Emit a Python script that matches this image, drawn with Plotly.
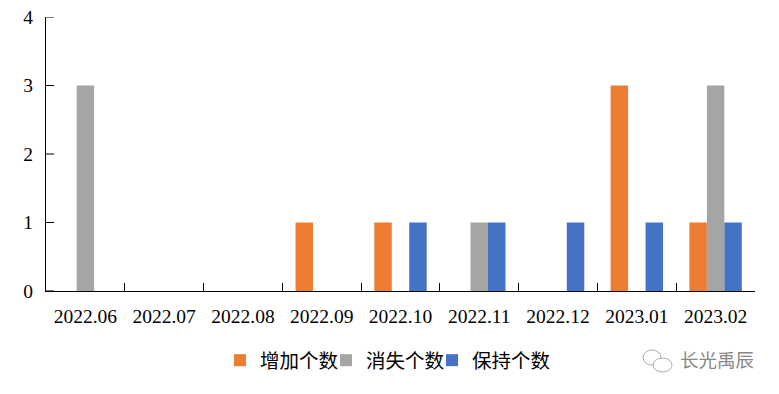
import plotly.graph_objects as go

months = ["2022.06","2022.07","2022.08","2022.09","2022.10","2022.11","2022.12","2023.01","2023.02"]
added = [0,0,0,1,1,0,0,3,1]
lost = [3,0,0,0,0,1,0,0,3]
kept = [0,0,0,0,1,1,1,1,1]
names = ["增加个数","消失个数","保持个数"]
colors = ["#ED7D31","#A5A5A5","#4472C4"]
y_ticks = [0,1,2,3,4]
font = "Liberation Serif, Noto Sans CJK SC"
W, H = 779, 394
L, R, T, B = 46, 24, 17, 103
pw, ph = W-L-R, H-T-B
def pxx(x): return (x-L)/pw
def pyy(y): return (H-B-y)/ph

legend_ids = ["legend","legend2","legend3"]
legend_x = [226,332,438]

fig = go.Figure()
for n,v,c,lid in zip(names,[added,lost,kept],colors,legend_ids):
    fig.add_bar(x=months,y=v,name=n,legend=lid,marker=dict(color=c,line=dict(width=0)))
layout_legends = {
    lid: dict(x=pxx(x),xanchor="left",xref="paper",yref="container",y=1-341/H,yanchor="top",
              font=dict(size=19.5),itemwidth=30,indentation=-6,bgcolor="rgba(0,0,0,0)")
    for lid,x in zip(legend_ids,legend_x)
}
fig.update_layout(
    width=W,height=H,barmode="group",bargap=0.335,bargroupgap=0,showlegend=True,
    margin=dict(l=L,r=R,t=T,b=B,autoexpand=False),
    paper_bgcolor="white",plot_bgcolor="white",
    font=dict(family=font,size=19,color="black"),
    **layout_legends,
)
fig.update_xaxes(type="category",automargin=False,showline=True,linecolor="black",linewidth=1,ticks="inside",ticklen=8,tickcolor="black",showgrid=False,
                 tickfont=dict(size=19.5),tickson="boundaries",ticklabelstandoff=8)
fig.update_yaxes(automargin=False,range=[0,4],tickvals=y_ticks,showline=True,linecolor="black",linewidth=1,ticks="",showgrid=False,zeroline=False,
                 tickfont=dict(size=19.5),ticklabelstandoff=8)
for v in y_ticks:
    fig.add_shape(type="line",xref="paper",yref="y",x0=0,x1=8/pw,y0=v,y1=v,line=dict(color="black",width=1))
fig.add_annotation(text="长光禹辰",xref="paper",yref="paper",x=pxx(717),y=pyy(361),xanchor="center",yanchor="middle",showarrow=False,
                   font=dict(size=18.5,color="#888888"))
logo = dict(type="circle",xref="paper",yref="paper",line=dict(color="#aaaaaa",width=1))
fig.add_shape(**logo,x0=pxx(643),x1=pxx(661),y0=pyy(365),y1=pyy(350))
fig.add_shape(**logo,x0=pxx(653),x1=pxx(672),y0=pyy(372),y1=pyy(358),fillcolor="white")
fig.write_html("out.html",config=dict(displayModeBar=False),
               post_script="document.body.style.margin='0';window.dispatchEvent(new Event('resize'));")
